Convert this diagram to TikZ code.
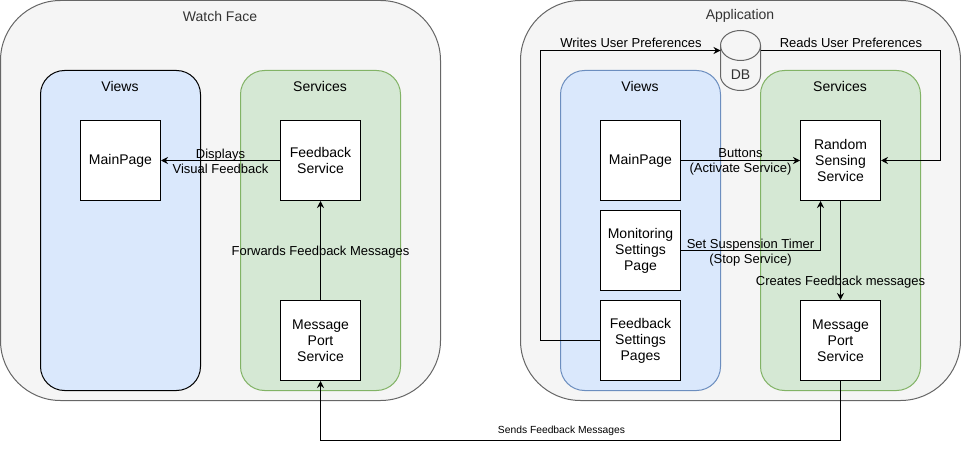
\documentclass[tikz,border=0pt]{standalone}
\usepackage{fontspec}
\setmainfont{Liberation Sans}
\usetikzlibrary{arrows.meta,calc}
\definecolor{outerfill}{HTML}{F5F5F5}
\definecolor{outerline}{HTML}{666666}
\definecolor{titletext}{HTML}{333333}
\definecolor{viewsfill}{HTML}{DAE8FC}
\definecolor{viewsline}{HTML}{6C8EBF}
\definecolor{servfill}{HTML}{D5E8D4}
\definecolor{servline}{HTML}{82B366}
\tikzset{
  outerbox/.style={draw=outerline, fill=outerfill, line width=1pt, rounded corners=60pt,
    minimum width=440pt, minimum height=400pt, inner sep=0pt},
  groupbox/.style={line width=1pt, rounded corners=24pt,
    minimum width=160pt, minimum height=320pt, inner sep=0pt},
  viewsbox/.style={groupbox, draw=viewsline, fill=viewsfill},
  servbox/.style={groupbox, draw=servline, fill=servfill},
  outertitle/.style={text=titletext, font=\fontsize{14}{16}\selectfont, inner sep=0pt, yshift=-1pt},
  grouptitle/.style={text=black, font=\fontsize{14}{16}\selectfont, inner sep=0pt, yshift=-1pt},
  compbox/.style={draw, fill=white, line width=1pt, minimum width=80pt, minimum height=80pt,
    inner sep=0pt, align=center, font=\fontsize{14}{16}\selectfont},
  elabel/.style={align=center, font=\fontsize{13}{15}\selectfont, inner sep=0pt, yshift=-1.2pt},
  smalllabel/.style={align=center, font=\fontsize{10.3}{12}\selectfont, inner sep=0pt},
  arr/.style={-{Stealth[length=7pt,width=7pt]}, line width=1pt, draw=black},
}
\begin{document}
\begin{tikzpicture}[x=1pt,y=-1pt]
\useasboundingbox (0,0) rectangle (961,449);

% ---------------- Watch Face ----------------
\node[outerbox] (wf) at (220.5,200.5) {};
\node[outertitle] (wft) at (220,15) {Watch Face};
\node[groupbox, draw=black, fill=viewsfill] (wfv) at (120.5,230.5) {};
\node[grouptitle] (wfvt) at (120,85) {Views};
\node[servbox] (wfs) at (320.5,230.5) {};
\node[grouptitle] (wfst) at (320,85) {Services};
\node[compbox] (wmain) at (120.5,160.5) {MainPage};
\node[compbox] (wfb) at (320.5,160.5) {Feedback\\Service};
\node[compbox] (wmps) at (320.5,340.5) {Message\\Port\\Service};

% ---------------- Application ----------------
\node[outerbox] (app) at (740.5,200.5) {};
\node[outertitle] (appt) at (740,15) {Application};
\node[viewsbox] (av) at (640.5,230.5) {};
\node[grouptitle] (avt) at (640,85) {Views};
\node[servbox] (as) at (840.5,230.5) {};
\node[grouptitle] (ast) at (840,85) {Services};
\node[compbox] (amain) at (640.5,160.5) {MainPage};
\node[compbox] (mon) at (640.5,250.5) {Monitoring\\Settings\\Page};
\node[compbox] (fsp) at (640.5,340.5) {Feedback\\Settings\\Pages};
\node[compbox] (rss) at (840.5,160.5) {Random\\Sensing\\Service};
\node[compbox] (amps) at (840.5,340.5) {Message\\Port\\Service};

% DB cylinder
\draw[draw=outerline, fill=outerfill, line width=1pt]
  (720.5,45.5) -- (720.5,75.5) arc[start angle=180, end angle=360, x radius=20pt, y radius=15pt]
  -- (760.5,45.5) arc[start angle=0, end angle=180, x radius=20pt, y radius=15pt] -- cycle;
\draw[draw=outerline, line width=1pt]
  (720.5,45.5) arc[start angle=180, end angle=360, x radius=20pt, y radius=15pt];
\node[text=titletext, font=\fontsize{14}{16}\selectfont, inner sep=0pt] (dbt) at (740.5,74.5) {DB};
\coordinate (dbin) at (720.5,50.5);
\coordinate (dbout) at (760.5,50.5);

% ---------------- connectors ----------------
\draw[arr] (wfb.west) -- (wmain.east);
\node[elabel] (l1) at (220.5,160.5) {Displays\\Visual Feedback};

\draw[arr] (wmps.north) -- (wfb.south);
\node[elabel] (l2) at (320.5,250.5) {Forwards Feedback Messages};

\draw[arr] (amain.east) -- (rss.west);
\node[elabel] (l3) at (740.5,160.5) {Buttons\\(Activate Service)};

\coordinate (monup) at ($(rss.south)+(-20,0)$);
\draw[arr] (mon.east) -| (monup);
\node[elabel] (l4) at (750.5,251.5) {Set Suspension Timer\\(Stop Service)};

\draw[arr] (rss.south) -- (amps.north);
\node[elabel] (l5) at (840.5,280.5) {Creates Feedback messages};

\coordinate (wturn) at (540.5,340.5);
\draw[arr] (fsp.west) -- (wturn) |- (dbin);
\node[elabel] (l6) at (631,42) {Writes User Preferences};

\coordinate (rturn) at (940.5,160.5);
\draw[arr] (dbout) -| (rturn) -- (rss.east);
\node[elabel] (l7) at (851,42) {Reads User Preferences};

\coordinate (sturn) at (840.5,440.5);
\draw[arr] (amps.south) -- (sturn) -| (wmps.south);
\node[smalllabel] (l8) at (561.5,430.5) {Sends Feedback Messages};
\end{tikzpicture}
\end{document}
